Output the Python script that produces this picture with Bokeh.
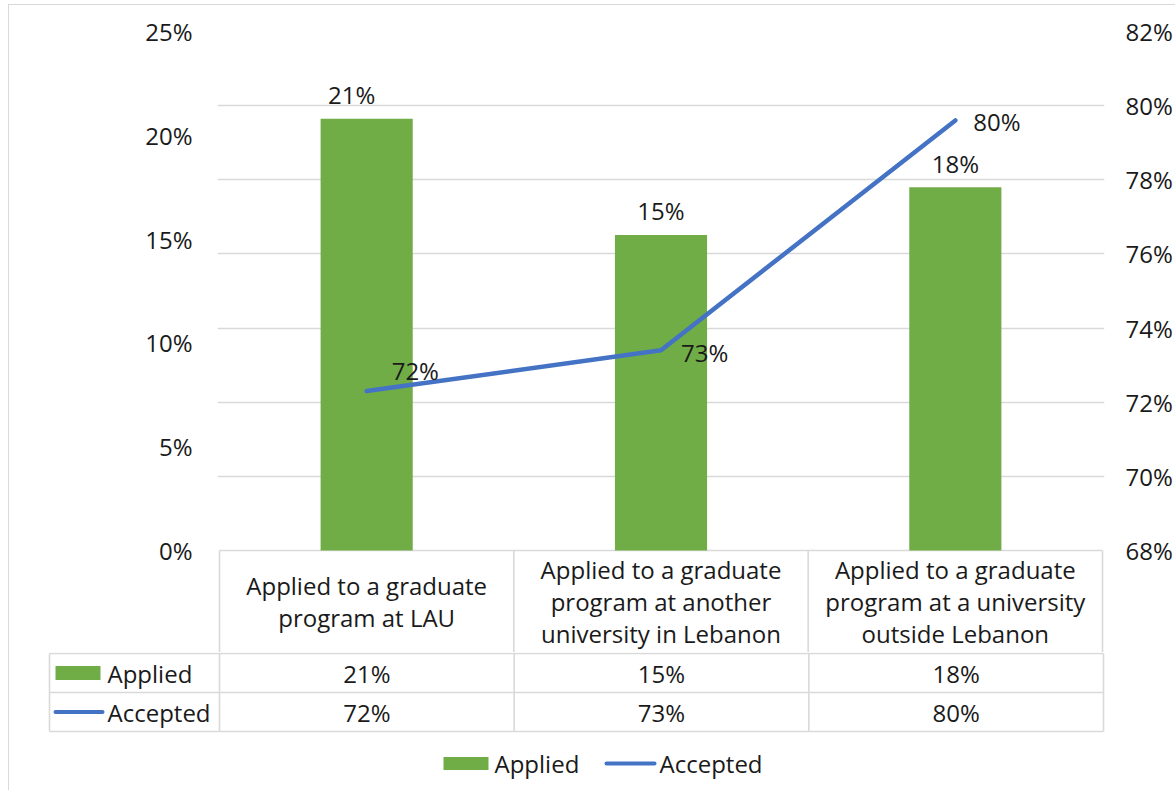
from bokeh.plotting import figure
from bokeh.models import Range1d, LinearAxis, FixedTicker, PrintfTickFormatter, Grid, ColumnDataSource
from bokeh.layouts import column
from bokeh.embed import file_html
from bokeh.resources import INLINE
from bokeh.core.properties import value

# ---------------- data ----------------
categories = [
    "Applied to a graduate\nprogram at LAU",
    "Applied to a graduate\nprogram at another\nuniversity in Lebanon",
    "Applied to a graduate\nprogram at a university\noutside Lebanon",
]
applied = [20.8, 15.2, 17.5]      # % (left axis)
accepted = [72.3, 73.4, 79.6]     # % (right axis)
series_names = ["Applied", "Accepted"]
left_ticks = [0, 5, 10, 15, 20, 25]
right_ticks = [68, 70, 72, 74, 76, 78, 80, 82]

# ---------------- style ----------------
FONT = "Open Sans"
FS = "24px"
TXT = "#1a1a1a"
GRIDC = "#d9d9d9"
GREEN = "#70AD47"
BLUE = "#4472C4"

# ---------------- layout (page pixels) ----------------
ORGX, ORGY = 9, 5        # canvas origin on the page (after chart border)
W_CANVAS = 1166
COL = 884 / 3.0          # width of one category column
X0 = 219                 # page x of category 0 left edge
FRAME_T = 31
ZERO_Y = 550
SPLIT_Y = 652
BOTTOM_Y = 790
PAD = 2
TBL_L = 47
RIGHT_B = (ORGX + W_CANVAS) - (X0 + 884 + PAD)


def px(xp):
    return (xp - X0) / COL


n = len(categories)
xc = [i + 0.5 for i in range(n)]
L_MIN, L_MAX = left_ticks[0], left_ticks[-1]
R_MIN, R_MAX = right_ticks[0], right_ticks[-1]
kL = (ZERO_Y - FRAME_T) / (L_MAX - L_MIN)
kR = (ZERO_Y - FRAME_T) / (R_MAX - R_MIN)
y_lo = L_MIN - (SPLIT_Y - ZERO_Y) / kL
yr_lo = R_MIN - (SPLIT_Y - ZERO_Y) / kR

# ================= top figure: chart + category row =================
p = figure(width=W_CANVAS, height=SPLIT_Y - ORGY,
           x_range=Range1d(-PAD / COL, n + PAD / COL),
           y_range=Range1d(y_lo, L_MAX),
           x_axis_location=None, y_axis_location=None,
           toolbar_location=None, output_backend="svg", title=None,
           min_border_left=X0 - PAD - ORGX, min_border_right=RIGHT_B,
           min_border_top=FRAME_T - ORGY, min_border_bottom=0, frame_align=False)
p.outline_line_color = None
p.xgrid.visible = False
p.ygrid.visible = False
p.extra_y_ranges = {"right": Range1d(yr_lo, R_MAX)}

la = LinearAxis(ticker=FixedTicker(ticks=left_ticks), formatter=PrintfTickFormatter(format="%d%%"),
                axis_line_color=None, major_tick_line_color=None, minor_tick_line_color=None,
                major_tick_out=0, major_tick_in=0, minor_tick_out=0, minor_tick_in=0,
                major_label_standoff=25, major_label_text_font=FONT,
                major_label_text_font_size=FS, major_label_text_color=TXT)
p.add_layout(la, "left")
ra = LinearAxis(y_range_name="right", ticker=FixedTicker(ticks=right_ticks),
                formatter=PrintfTickFormatter(format="%d%%"),
                axis_line_color=None, major_tick_line_color=None, minor_tick_line_color=None,
                major_tick_out=0, major_tick_in=0, minor_tick_out=0, minor_tick_in=0,
                major_label_standoff=21, major_label_text_font=FONT,
                major_label_text_font_size=FS, major_label_text_color=TXT)
p.add_layout(ra, "right")

grid = Grid(dimension=1, ticker=FixedTicker(ticks=right_ticks[1:]), y_range_name="right",
            grid_line_color=GRIDC, grid_line_width=1.3)
p.add_layout(grid)

# table top border / axis line and category column separators
p.segment(x0=[0], y0=[L_MIN], x1=[n], y1=[L_MIN], line_color=GRIDC, line_width=1.6)
p.segment(x0=list(range(n + 1)), y0=[L_MIN] * (n + 1), x1=list(range(n + 1)), y1=[y_lo] * (n + 1),
          line_color=GRIDC, line_width=1.6)

src = ColumnDataSource(dict(
    x=xc, applied=applied, accepted=accepted, cat=categories,
    alab=[f"{round(v)}%" for v in applied],
    clab=[f"{round(v)}%" for v in accepted],
    adx=[-15, 0, 0],
    cdx=[25, 20, 18], cdy=[-21, 2, 1],
))

p.vbar(x="x", top="applied", bottom=0, width=0.313, source=src,
       fill_color=GREEN, line_color=None)
p.line(x="x", y="accepted", source=src, y_range_name="right",
       line_color=BLUE, line_width=4.5, line_cap="round", line_join="round")

p.text(x="x", y="applied", text="alab", source=src, x_offset="adx", y_offset=-24,
       text_align="center", text_baseline="middle",
       text_font=value(FONT), text_font_size=FS, text_color=TXT)
p.text(x="x", y="accepted", text="clab", source=src, y_range_name="right",
       x_offset="cdx", y_offset="cdy",
       text_align="left", text_baseline="middle",
       text_font=value(FONT), text_font_size=FS, text_color=TXT)

cat_y = L_MIN - ((SPLIT_Y + ZERO_Y) / 2 - ZERO_Y) / kL
p.text(x="x", y=cat_y, text="cat", source=src,
       text_align="center", text_baseline="middle", text_line_height=0.97,
       text_font=value(FONT), text_font_size=FS, text_color=TXT)

# ================= bottom figure: data rows + legend =================
H2 = BOTTOM_Y - SPLIT_Y
q = figure(width=W_CANVAS, height=H2,
           x_range=Range1d(px(TBL_L), n + PAD / COL),
           y_range=Range1d(H2, 0),
           x_axis_location=None, y_axis_location=None,
           toolbar_location=None, output_backend="svg", title=None,
           min_border_left=TBL_L - ORGX, min_border_right=RIGHT_B,
           min_border_top=0, min_border_bottom=0, frame_align=False)
q.outline_line_color = None
q.xgrid.visible = False
q.ygrid.visible = False

r_top, r_mid, r_bot = 653 - SPLIT_Y, 692 - SPLIT_Y, 731 - SPLIT_Y
row_c = [(r_top + r_mid) / 2, (r_mid + r_bot) / 2]
hx0 = px(49)
q.segment(x0=[hx0] * 3, y0=[r_top, r_mid, r_bot], x1=[n] * 3, y1=[r_top, r_mid, r_bot],
          line_color=GRIDC, line_width=1.6)
vx = [hx0] + list(range(n + 1))
q.segment(x0=vx, y0=[r_top] * len(vx), x1=vx, y1=[r_bot] * len(vx),
          line_color=GRIDC, line_width=1.6)

q.text(x=xc, y=[row_c[0]] * n, text=[f"{round(v)}%" for v in applied],
       text_align="center", text_baseline="middle",
       text_font=value(FONT), text_font_size=FS, text_color=TXT)
q.text(x=xc, y=[row_c[1]] * n, text=[f"{round(v)}%" for v in accepted],
       text_align="center", text_baseline="middle",
       text_font=value(FONT), text_font_size=FS, text_color=TXT)

# row headers (legend keys inside the data table)
q.rect(x=[px(77.5)], y=[row_c[0]], width=45, height=14, width_units="screen", height_units="screen",
       fill_color=GREEN, line_color=None)
q.segment(x0=[px(55)], y0=[row_c[1]], x1=[px(102)], y1=[row_c[1]], line_color=BLUE, line_width=4,
          line_cap="round")
q.text(x=[px(107), px(107)], y=row_c, text=series_names,
       text_align="left", text_baseline="middle",
       text_font=value(FONT), text_font_size=FS, text_color=TXT)

# bottom legend
leg_y = 763 - SPLIT_Y
q.rect(x=[px(465.5)], y=[leg_y], width=45, height=13, width_units="screen", height_units="screen",
       fill_color=GREEN, line_color=None)
q.segment(x0=[px(606)], y0=[leg_y], x1=[px(654)], y1=[leg_y], line_color=BLUE, line_width=4,
          line_cap="round")
q.text(x=[px(494), px(659)], y=[leg_y, leg_y], text=series_names,
       text_align="left", text_baseline="middle",
       text_font=value(FONT), text_font_size=FS, text_color=TXT)

layout = column(p, q, spacing=0,
                styles={"margin-left": "8px", "margin-top": "4px",
                        "border-left": "1px solid #d9d9d9", "border-top": "1px solid #d9d9d9"})
open("out.html", "w").write(file_html(layout, INLINE))
